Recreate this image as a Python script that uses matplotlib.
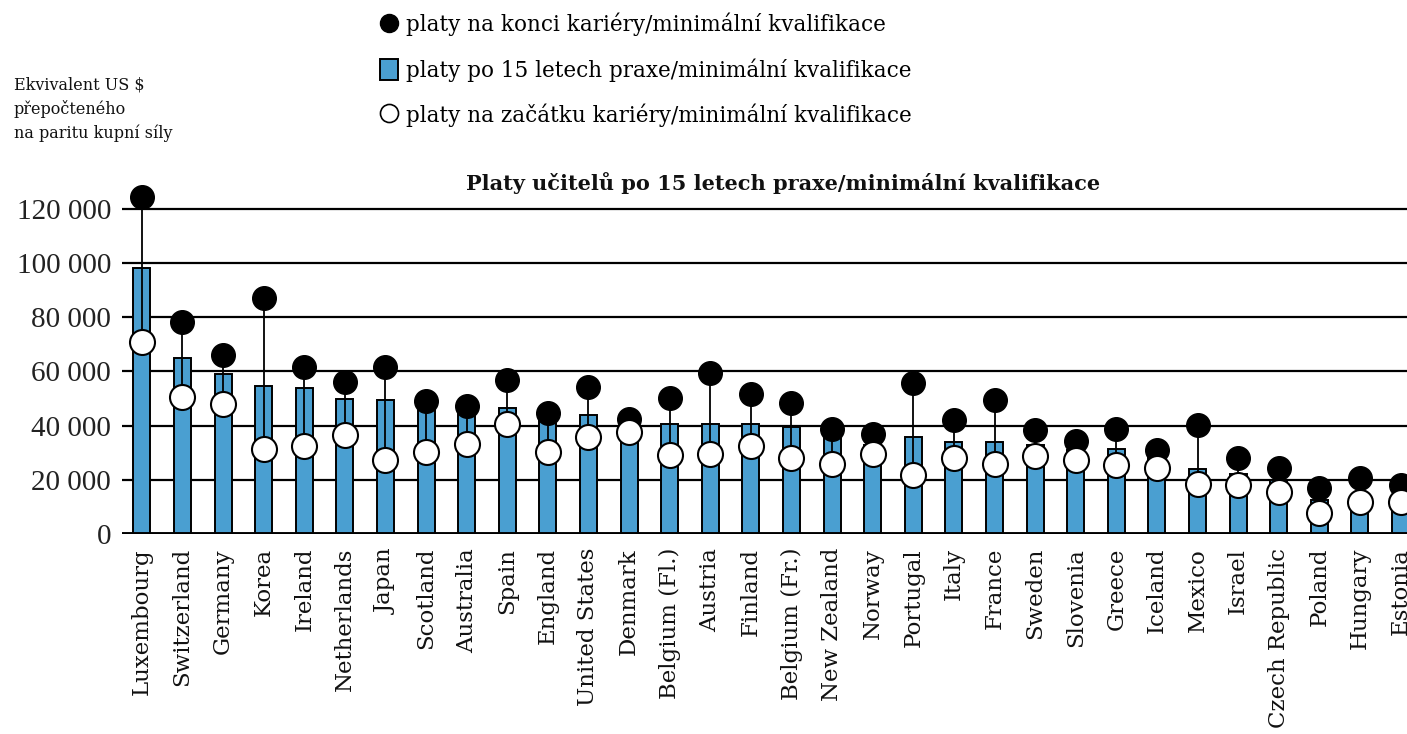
import matplotlib
matplotlib.use('Agg')
import matplotlib.pyplot as plt
from matplotlib.lines import Line2D
from matplotlib.patches import Patch
from matplotlib.ticker import FuncFormatter

countries = ["Luxembourg", "Switzerland", "Germany", "Korea", "Ireland", "Netherlands",
             "Japan", "Scotland", "Australia", "Spain", "England", "United States",
             "Denmark", "Belgium (Fl.)", "Austria", "Finland", "Belgium (Fr.)",
             "New Zealand", "Norway", "Portugal", "Italy", "France", "Sweden",
             "Slovenia", "Greece", "Iceland", "Mexico", "Israel", "Czech Republic",
             "Poland", "Hungary", "Estonia"]
salary_15y = [98200, 64900, 59100, 54800, 54000, 49900, 49300, 45600, 44400, 46500,
              42000, 44000, 40900, 40500, 40500, 40500, 39500, 35800, 33000, 35800,
              34000, 34000, 33000, 31000, 31500, 28400, 23900, 22300, 20000, 12500,
              14500, 13500]
salary_top = [124400, 78400, 65900, 87000, 61600, 56300, 61600, 49000, 47200, 56900,
              44800, 54200, 42600, 50200, 59500, 51800, 48300, 38900, 37100, 55800,
              42200, 49600, 38500, 34300, 38800, 30900, 40100, 27900, 24200, 17000,
              20500, 18000]
salary_start = [70800, 50500, 48100, 31200, 32600, 36400, 27500, 30300, 33100, 40700,
                30300, 35800, 37700, 29100, 29700, 32400, 28200, 25800, 29400, 21700,
                28200, 26000, 28800, 27500, 25600, 24200, 18400, 18000, 15600, 7800,
                11700, 11700]
yticks = [0, 20000, 40000, 60000, 80000, 100000, 120000]

legend_labels = ["platy na konci kariéry/minimální kvalifikace",
                 "platy po 15 letech praxe/minimální kvalifikace",
                 "platy na začátku kariéry/minimální kvalifikace"]
title = "Platy učitelů po 15 letech praxe/minimální kvalifikace"
ylabel = "Ekvivalent US $\npřepočteného\nna paritu kupní síly"

BLUE = '#4A9FD1'
W, H = 1407, 734

fig = plt.figure(figsize=(W / 100, H / 100), dpi=100)
ax = fig.add_axes([122 / W, (H - 534) / H, 1 - 122 / W, (534 - 190) / H])

x = list(range(len(countries)))
ax.set_xlim(-0.49, 31.16)
ax.set_ylim(0, 127000)

for yv in yticks[1:]:
    ax.axhline(yv, color='black', lw=1.6, zorder=1)
ax.axhline(0, color='black', lw=2.8, zorder=4)

ax.bar(x, salary_15y, width=0.42, color=BLUE, edgecolor='black', linewidth=1.4, zorder=2)
ax.vlines(x, salary_start, salary_top, colors='black', lw=1.3, zorder=3)
ax.plot(x, salary_top, 'o', ms=17, color='black', zorder=5, clip_on=False)
ax.plot(x, salary_start, 'o', ms=18, mfc='white', mec='black', mew=1.5, zorder=6, clip_on=False)

for s in ax.spines.values():
    s.set_visible(False)

ax.set_yticks(yticks)
ax.yaxis.set_major_formatter(FuncFormatter(lambda v, p: f"{int(v):,}".replace(",", " ")))
ax.tick_params(axis='y', length=0, pad=8, labelsize=21, labelcolor='#222222')
for lab in ax.get_yticklabels():
    lab.set_family('Liberation Serif')

ax.set_xticks(x)
ax.set_xticklabels(countries, rotation=90, va='top', ha='center',
                   fontsize=16.5, family='DejaVu Serif', color='#111111')
ax.tick_params(axis='x', length=0, pad=10)

fig.text(783 / W, 1 - 183 / H, title, ha='center', va='center',
         fontsize=15, fontweight='bold', family='DejaVu Serif', color='#111111')
fig.text(14 / W, 1 - 77 / H, ylabel, ha='left', va='top', fontsize=11.5,
         family='DejaVu Serif', linespacing=1.45, color='#111111')

handles = [Line2D([], [], ls='none', marker='o', ms=13, color='black'),
           Patch(facecolor=BLUE, edgecolor='black', linewidth=1.4),
           Line2D([], [], ls='none', marker='o', ms=13, mfc='white', mec='black', mew=1.2)]
fig.legend(handles, legend_labels, loc='upper left',
           bbox_to_anchor=(380 / W, 1 - 13 / H), frameon=False,
           prop={'family': 'DejaVu Serif', 'size': 15.5},
           labelspacing=1.0, handlelength=0.85, handleheight=1.1, handletextpad=0.35,
           borderaxespad=0, borderpad=0)

fig.savefig('out.png', dpi=100)
